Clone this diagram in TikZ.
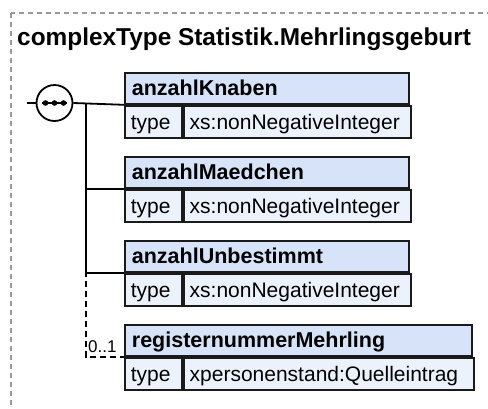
\documentclass[tikz,border=0pt]{standalone}
\usepackage{fontspec}
\setmainfont{Liberation Sans}
\usetikzlibrary{calc}
\definecolor{hdrfill}{HTML}{D6E3F8}
\definecolor{rowfill}{HTML}{EBF2FC}
\definecolor{framegray}{HTML}{999999}
\definecolor{edge}{HTML}{1A1A1A}
\begin{document}
\begin{tikzpicture}[x=1pt,y=-1pt,
  conn/.style={line width=1.8pt, draw=black},
  frame/.style={draw=framegray, line width=1.2pt, dash pattern=on 5pt off 4pt},
  hdr/.style={draw=edge, fill=hdrfill, line width=1.8pt, anchor=north west,
    minimum height=31pt, inner xsep=7pt, inner ysep=0pt, align=left,
    text height=15pt, text depth=0pt, font=\fontsize{21.5}{25}\selectfont\bfseries},
  cell/.style={draw=edge, fill=rowfill, line width=1.8pt, anchor=north west,
    minimum height=32pt, inner xsep=6pt, inner ysep=0pt, align=left,
    text height=15pt, text depth=0pt, font=\fontsize{21}{25}\selectfont},
  dotc/.style={fill=black}
]
\useasboundingbox (0,0) rectangle (488,408);
\fill[white] (0,0) rectangle (488,408);
\begin{scope}
  \clip (0,0) rectangle (488,408);
  \draw[frame] (11,13) rectangle (530,450);
\end{scope}

% title
\node[anchor=base west, inner sep=0pt, font=\fontsize{24.4}{28}\selectfont\bfseries] (title) at (17,45) {complexType Statistik.Mehrlingsgeburt};

% element boxes
\node[hdr, text width=270pt] (k) at (124,72) {anzahlKnaben};
\node[cell, text width=45pt] (kt) at (k.south west) {type};
\node[cell, text width=215pt] (kv) at (kt.north east) {xs:nonNegativeInteger};

\node[hdr, text width=270pt] (m) at (124,156) {anzahlMaedchen};
\node[cell, text width=45pt] (mt) at (m.south west) {type};
\node[cell, text width=215pt] (mv) at (mt.north east) {xs:nonNegativeInteger};

\node[hdr, text width=270pt] (u) at (124,240) {anzahlUnbestimmt};
\node[cell, text width=45pt] (ut) at (u.south west) {type};
\node[cell, text width=215pt] (uv) at (ut.north east) {xs:nonNegativeInteger};

\node[hdr, text width=333pt] (r) at (124,324) {registernummerMehrling};
\node[cell, text width=45pt] (rt) at (r.south west) {type};
\node[cell, text width=278pt] (rv) at (rt.north east) {xpersonenstand:Quelleintrag};

% sequence compositor
\node[circle, draw=black, fill=white, line width=1.8pt, minimum size=36pt, inner sep=0pt] (seq) at (54.5,103) {};
\draw[line width=1.6pt] (42,103) -- (67,103);
\fill[dotc] (45.5,103) circle (2.8pt);
\fill[dotc] (54.5,103) circle (2.8pt);
\fill[dotc] (63.5,103) circle (2.8pt);

\coordinate (in) at (27,103);
\coordinate (tr) at (86,103);
\coordinate (tr3) at (86,271);

\draw[conn] (in) -- (seq.west);
\draw[conn] (seq.east) -- (k.south west);
\draw[conn] (tr) |- (m.south west);
\draw[conn] (tr) |- (u.south west);
\draw[conn, dash pattern=on 6pt off 4pt] (tr3) |- (r.south west);

\node[anchor=base west, inner sep=0pt, font=\fontsize{17}{20}\selectfont] (card) at (88,352) {0..1};
\end{tikzpicture}
\end{document}
